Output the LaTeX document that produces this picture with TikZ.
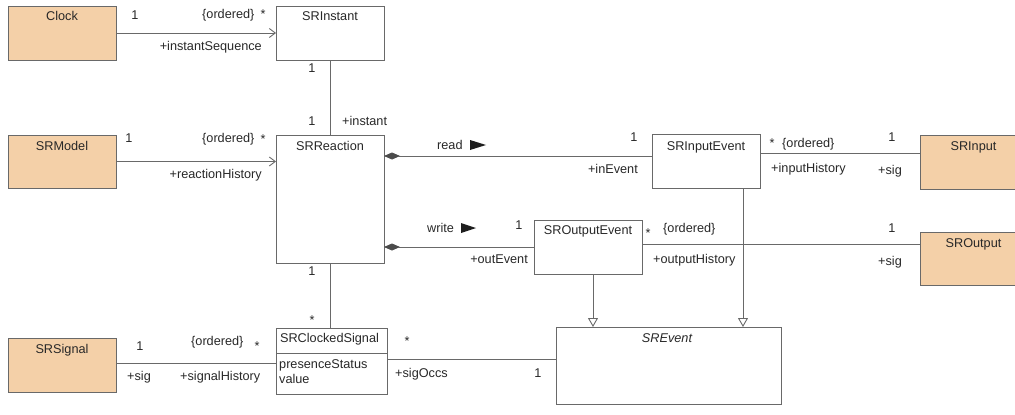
\documentclass[tikz,border=0pt]{standalone}
\usepackage{fontspec}
\setmainfont{Liberation Sans}
\usetikzlibrary{arrows.meta,calc}
\definecolor{boxfill}{RGB}{244,208,168}
\definecolor{linegray}{RGB}{105,105,105}
\definecolor{txtgray}{RGB}{40,40,40}
\definecolor{diamondgray}{RGB}{75,75,75}
\definecolor{tridark}{RGB}{30,30,30}
\begin{document}
\begin{tikzpicture}[x=1pt,y=-1pt,
 box/.style={draw=linegray, line width=0.9pt, anchor=north west, inner sep=0pt, outer sep=0pt},
 actor/.style={box, fill=boxfill},
 cls/.style={box, fill=white},
 lbl/.style={font=\fontsize{12.7}{14}\selectfont, text=txtgray, inner sep=0pt, anchor=base},
 lw/.style={lbl, anchor=base west},
 le/.style={lbl, anchor=base east},
 conn/.style={draw=linegray, line width=0.9pt},
 nav/.style={conn, -{Straight Barb[length=6pt,width=9pt]}},
 gen/.style={conn, -{Triangle[open,length=9pt,width=10pt,fill=white]}},
 comp/.style={conn, {Diamond[length=16pt,width=7pt,fill=diamondgray,color=diamondgray]}-},
 dirtri/.style={fill=tridark},
]
\useasboundingbox (0,0) rectangle (1015,415);

% boxes
\node[actor, minimum width=108pt, minimum height=54pt] (clock) at (8,6) {};
\node[cls, minimum width=108pt, minimum height=54pt] (srinstant) at (276,6) {};
\node[actor, minimum width=108pt, minimum height=53pt] (srmodel) at (8,135) {};
\node[cls, minimum width=108pt, minimum height=128pt] (srreaction) at (276,135) {};
\node[cls, minimum width=108pt, minimum height=54pt] (srinputevent) at (652,134) {};
\node[actor, minimum width=110pt, minimum height=54pt] (srinput) at (920,135) {};
\node[cls, minimum width=108pt, minimum height=54pt] (sroutputevent) at (534,220) {};
\node[actor, minimum width=110pt, minimum height=53pt] (sroutput) at (920,232) {};
\node[actor, minimum width=108pt, minimum height=54pt] (srsignal) at (8,338) {};
\node[cls, minimum width=111pt, minimum height=66pt] (srclocked) at (276,328) {};
\node[cls, minimum width=225pt, minimum height=77pt] (srevent) at (556,327) {};
\draw[conn] (srclocked.west |- 0,353) -- (srclocked.east |- 0,353);

% titles
\node[lbl] (tclock) at (62,20.5) {Clock};
\node[lbl] (tsrinstant) at (330,20.5) {SRInstant};
\node[lbl] (tsrmodel) at (62,150.5) {SRModel};
\node[lbl] (tsrreaction) at (330,150.5) {SRReaction};
\node[lbl] (tsrinputevent) at (706,150.5) {SRInputEvent};
\node[lbl] (tsrinput) at (973.5,150.5) {SRInput};
\node[lbl] (tsroutputevent) at (588,234.5) {SROutputEvent};
\node[lbl] (tsroutput) at (973.5,247.5) {SROutput};
\node[lbl] (tsrsignal) at (62,353.5) {SRSignal};
\node[lbl] (tsrclocked) at (329.5,342.5) {SRClockedSignal};
\node[lw] (apresence) at (279,368.5) {presenceStatus};
\node[lw] (avalue) at (279,383.5) {value};
\node[lbl, font=\fontsize{12.7}{14}\selectfont\itshape] (tsrevent) at (667,342.5) {SREvent};

% helper coordinates
\coordinate (yread) at (0,156);
\coordinate (yin) at (0,153);
\coordinate (yout) at (0,244);
\coordinate (ysig) at (0,363);
\coordinate (yocc) at (0,359);
\coordinate (xin) at (743,0);
\coordinate (xout) at (593,0);

% connectors
\draw[nav] (clock.east) -- (clock.east -| srinstant.west);
\draw[conn] (srinstant.south) -- (srreaction.north);
\draw[nav] (srmodel.east) -- (srmodel.east -| srreaction.west);
\draw[comp] (srreaction.east |- yread) -- (srinputevent.west |- yread);
\draw[comp] (srreaction.east |- sroutputevent.west) -- (sroutputevent.west);
\draw[conn] (srinputevent.east |- yin) -- (srinput.west |- yin);
\draw[conn] (sroutputevent.east |- yout) -- (sroutput.west |- yout);
\draw[gen] (srinputevent.south -| xin) -- (srevent.north -| xin);
\draw[gen] (sroutputevent.south -| xout) -- (srevent.north -| xout);
\draw[conn] (srreaction.south) -- (srreaction.south |- srclocked.north);
\draw[conn] (srsignal.east |- ysig) -- (srclocked.west |- ysig);
\draw[conn] (srclocked.east |- yocc) -- (srevent.west |- yocc);

% connector labels
\node[lbl] (m1) at (135,19.5) {1};
\node[lw] (o1) at (202,18.5) {\{ordered\}};
\node[lbl] (s1) at (263,19) {*};
\node[le] (r1) at (262,50.5) {+instantSequence};
\node[lbl] (m2) at (312,72.5) {1};
\node[lbl] (m3) at (312,125) {1};
\node[lw] (r2) at (342,125) {+instant};
\node[lbl] (m4) at (129,142.5) {1};
\node[lw] (o2) at (202,142.5) {\{ordered\}};
\node[lbl] (s2) at (263,143) {*};
\node[le] (r3) at (262,178.5) {+reactionHistory};
\node[lw] (readl) at (437,149.5) {read};
\fill[dirtri] (470,140) -- (486,145) -- (470,150) -- cycle;
\node[lbl] (m5) at (634,141) {1};
\node[le] (r4) at (638,173.5) {+inEvent};
\node[lbl] (s3) at (772,147.5) {*};
\node[lw] (o3) at (782,147.5) {\{ordered\}};
\node[lbl] (m6) at (892,141.5) {1};
\node[lw] (r5) at (771,172.5) {+inputHistory};
\node[lw] (r6) at (878,174.5) {+sig};
\node[lw] (writel) at (427,232.5) {write};
\fill[dirtri] (461,223) -- (476,228) -- (461,233) -- cycle;
\node[lbl] (m7) at (519,229.5) {1};
\node[lbl] (s4) at (648,237) {*};
\node[lw] (o4) at (663,232.5) {\{ordered\}};
\node[le] (r7) at (528,263.5) {+outEvent};
\node[lw] (r8) at (653,263.5) {+outputHistory};
\node[lbl] (m8) at (892,232.5) {1};
\node[lw] (r9) at (878,265.5) {+sig};
\node[lbl] (m9) at (312,275.5) {1};
\node[lbl] (s5) at (312,324) {*};
\node[lbl] (m10) at (140,350.5) {1};
\node[lw] (o5) at (191,345.5) {\{ordered\}};
\node[lbl] (s6) at (257,350) {*};
\node[lw] (r10) at (127,380.5) {+sig};
\node[lw] (r11) at (180,380.5) {+signalHistory};
\node[lbl] (s7) at (407,345) {*};
\node[lw] (r12) at (395,377.5) {+sigOccs};
\node[lbl] (m11) at (538,377.5) {1};
\end{tikzpicture}
\end{document}
